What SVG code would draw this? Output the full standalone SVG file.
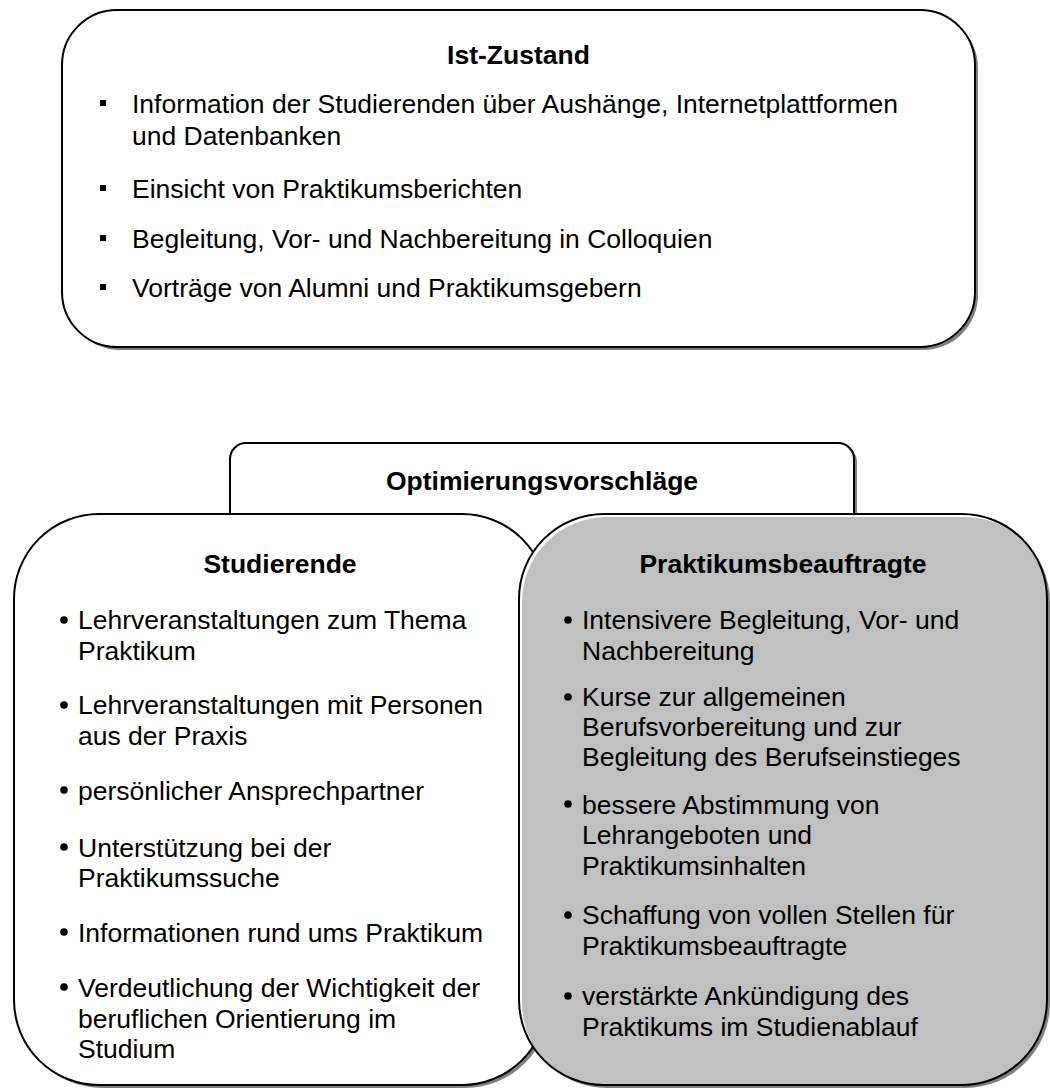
<svg xmlns="http://www.w3.org/2000/svg" width="1050" height="1088" viewBox="0 0 1050 1088">
<style>
.box{fill:#fff;stroke:#000;stroke-width:2}
.sh{fill:#808080}
.t{font-family:"Liberation Sans",Arial,sans-serif;font-size:26.5px;fill:#000}
.h{font-family:"Liberation Sans",Arial,sans-serif;font-size:26.5px;font-weight:bold;fill:#000;text-anchor:middle}
</style>
<defs>
<clipPath id="cp"><rect x="519" y="514" width="528" height="571" rx="85" ry="85"/></clipPath>
</defs>
<rect width="1050" height="1088" fill="#fff"/>
<g id="ist-zustand">
<rect class="sh" x="65" y="13" width="913" height="337" rx="55" ry="55"/>
<rect class="box" x="62" y="10" width="913" height="337" rx="55" ry="55"/>
<text class="h" x="518.5" y="64">Ist-Zustand</text>
<g fill="#000">
<rect x="100" y="100" width="6" height="6"/>
<rect x="100" y="185" width="6" height="6"/>
<rect x="100" y="235" width="6" height="6"/>
<rect x="100" y="284" width="6" height="6"/>
</g>
<text class="t" x="132" y="113">Information der Studierenden über Aushänge, Internetplattformen</text>
<text class="t" x="132" y="145">und Datenbanken</text>
<text class="t" x="132" y="198">Einsicht von Praktikumsberichten</text>
<text class="t" x="132" y="248">Begleitung, Vor- und Nachbereitung in Colloquien</text>
<text class="t" x="132" y="297">Vorträge von Alumni und Praktikumsgebern</text>
</g>
<g id="optimierung">
<rect class="sh" x="233" y="446" width="624" height="120" rx="16" ry="16"/>
<rect class="box" x="230" y="443" width="624" height="120" rx="16" ry="16"/>
<text class="h" x="542" y="490">Optimierungsvorschläge</text>
</g>
<g id="studierende">
<rect class="sh" x="17" y="517" width="533" height="571" rx="85" ry="85"/>
<rect class="box" x="14" y="514" width="533" height="571" rx="85" ry="85"/>
<text class="h" x="280" y="573">Studierende</text>
<g fill="#000">
<circle cx="64" cy="620" r="3.8"/>
<circle cx="64" cy="705" r="3.8"/>
<circle cx="64" cy="790" r="3.8"/>
<circle cx="64" cy="847" r="3.8"/>
<circle cx="64" cy="932" r="3.8"/>
<circle cx="64" cy="987" r="3.8"/>
</g>
<text class="t" x="78" y="629">Lehrveranstaltungen zum Thema</text>
<text class="t" x="78" y="660">Praktikum</text>
<text class="t" x="78" y="714">Lehrveranstaltungen mit Personen</text>
<text class="t" x="78" y="745">aus der Praxis</text>
<text class="t" x="78" y="800">persönlicher Ansprechpartner</text>
<text class="t" x="78" y="857">Unterstützung bei der</text>
<text class="t" x="78" y="887">Praktikumssuche</text>
<text class="t" x="78" y="942">Informationen rund ums Praktikum</text>
<text class="t" x="78" y="997">Verdeutlichung der Wichtigkeit der</text>
<text class="t" x="78" y="1028">beruflichen Orientierung im</text>
<text class="t" x="78" y="1058">Studium</text>
</g>
<g id="praktikumsbeauftragte">
<rect class="sh" x="522" y="517" width="528" height="571" rx="85" ry="85"/>
<rect x="519" y="514" width="528" height="571" rx="85" ry="85" fill="#fff"/>
<rect x="522" y="517" width="528" height="571" rx="85" ry="85" fill="#c0c0c0" clip-path="url(#cp)"/>
<rect x="519" y="514" width="528" height="571" rx="85" ry="85" fill="none" stroke="#000" stroke-width="2"/>
<text class="h" x="783" y="573">Praktikumsbeauftragte</text>
<g fill="#000">
<circle cx="568" cy="620" r="3.8"/>
<circle cx="568" cy="697" r="3.8"/>
<circle cx="568" cy="804" r="3.8"/>
<circle cx="568" cy="915" r="3.8"/>
<circle cx="568" cy="996" r="3.8"/>
</g>
<text class="t" x="582" y="629">Intensivere Begleitung, Vor- und</text>
<text class="t" x="582" y="660">Nachbereitung</text>
<text class="t" x="582" y="706">Kurse zur allgemeinen</text>
<text class="t" x="582" y="736">Berufsvorbereitung und zur</text>
<text class="t" x="582" y="766">Begleitung des Berufseinstieges</text>
<text class="t" x="582" y="814">bessere Abstimmung von</text>
<text class="t" x="582" y="844">Lehrangeboten und</text>
<text class="t" x="582" y="875">Praktikumsinhalten</text>
<text class="t" x="582" y="924">Schaffung von vollen Stellen für</text>
<text class="t" x="582" y="955">Praktikumsbeauftragte</text>
<text class="t" x="582" y="1005">verstärkte Ankündigung des</text>
<text class="t" x="582" y="1036">Praktikums im Studienablauf</text>
</g>
<g id="connectors"/>
</svg>
